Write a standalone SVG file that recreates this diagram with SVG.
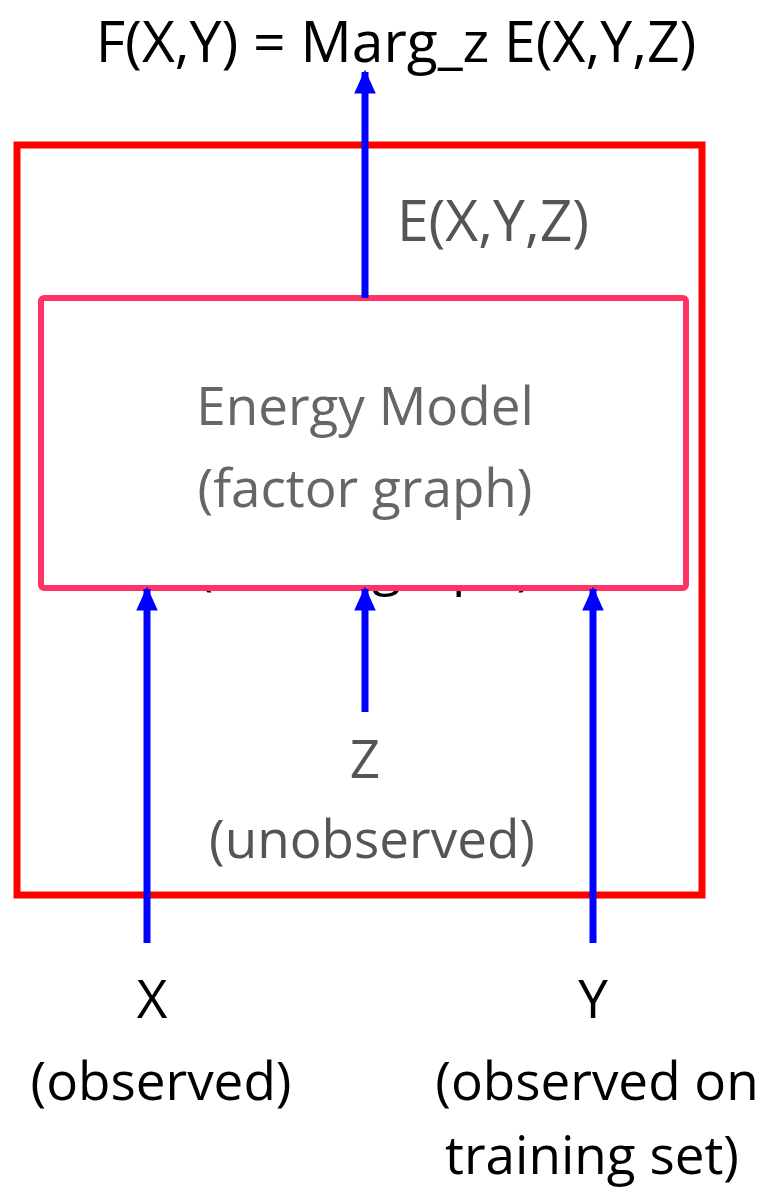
<svg xmlns="http://www.w3.org/2000/svg" width="759" height="1192" viewBox="0 0 759 1192">
<style>
text{font-family:"Open Sans","Noto Sans","DejaVu Sans",sans-serif;text-anchor:middle}
.blk{fill:#000;font-size:53px}
.big{fill:#000;font-size:57px}
.gry{fill:#555;font-size:53px}
.gbig{fill:#555;font-size:57px}
.lg{fill:#666;font-size:53px}
.con{stroke:#0000ff;stroke-width:7;fill:none;marker-end:url(#ah)}
</style>
<defs>
<marker id="ah" viewBox="0 0 10 10" refX="9" refY="5" markerUnits="userSpaceOnUse" markerWidth="24" markerHeight="24" orient="auto">
<path d="M0,0.5 L10,5 L0,9.5 z" fill="#0000ff"/>
</marker>
</defs>
<rect width="759" height="1192" fill="#fff"/>
<g id="title"><text class="big" x="396" y="62">F(X,Y) = Marg_z E(X,Y,Z)</text></g>
<g id="outer"><rect x="17" y="145" width="685" height="750" fill="none" stroke="#ff0000" stroke-width="7"/></g>
<g id="hidden"><text class="blk" x="365" y="584">(factor graph)</text></g>
<g id="energy-model">
<rect x="41" y="298" width="645" height="290" rx="3" fill="#fff" stroke="#ff3366" stroke-width="6"/>
<text class="lg" x="365" y="425">Energy Model</text>
<text class="lg" x="365" y="507">(factor graph)</text>
</g>
<g id="e-label"><text class="gbig" x="493" y="241">E(X,Y,Z)</text></g>
<g id="z"><text class="gry" x="365" y="778">Z</text><text class="gry" x="372" y="858">(unobserved)</text></g>
<g id="x"><text class="blk" x="152" y="1018">X</text><text class="blk" x="161" y="1100">(observed)</text></g>
<g id="y"><text class="blk" x="593" y="1018">Y</text><text class="blk" x="597" y="1100">(observed on</text><text class="blk" x="592" y="1174">training set)</text></g>
<g id="connectors">
<line class="con" x1="365" y1="298" x2="365" y2="72"/>
<line class="con" x1="147" y1="943" x2="147" y2="589"/>
<line class="con" x1="365" y1="712" x2="365" y2="589"/>
<line class="con" x1="593" y1="943" x2="593" y2="589"/>
</g>
</svg>
